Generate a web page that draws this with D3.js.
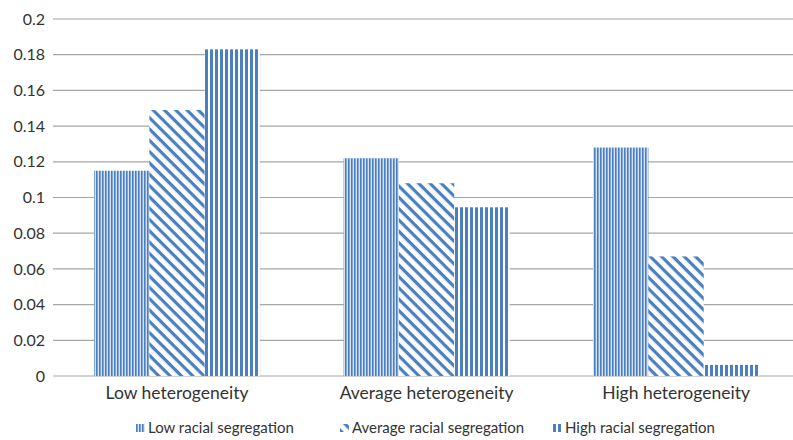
<!DOCTYPE html>
<html><head><meta charset="utf-8">
<script src="https://cdn.jsdelivr.net/npm/d3@7"></script>
<style>body{margin:0;background:#fff}svg{display:block}text{font-family:Lato,"Open Sans",sans-serif;fill:#333}</style>
</head><body>
<svg id="c" width="793" height="440"></svg>
<script>
const categories = ["Low heterogeneity","Average heterogeneity","High heterogeneity"];
const series = ["Low racial segregation","Average racial segregation","High racial segregation"];
const lowSeg = [0.115, 0.122, 0.128];
const avgSeg = [0.149, 0.108, 0.067];
const highSeg = [0.183, 0.0945, 0.0062];
const yTicks = [0,0.02,0.04,0.06,0.08,0.1,0.12,0.14,0.16,0.18,0.2];
const values = [lowSeg, avgSeg, highSeg];

const blue = "#4a7fc1";
const svg = d3.select("#c");
const defs = svg.append("defs");
const p0 = defs.append("pattern").attr("id","pat0").attr("patternUnits","userSpaceOnUse").attr("width",3).attr("height",10);
p0.append("rect").attr("width",3).attr("height",10).attr("fill","#d6e2f3");
p0.append("rect").attr("width",1.6).attr("height",10).attr("fill",blue);
const p1 = defs.append("pattern").attr("id","pat1").attr("patternUnits","userSpaceOnUse").attr("width",8).attr("height",8).attr("patternTransform","rotate(45)");
p1.append("rect").attr("width",8).attr("height",8).attr("fill","#fff");
p1.append("rect").attr("width",8).attr("height",3.2).attr("fill",blue);
const p2 = defs.append("pattern").attr("id","pat2").attr("patternUnits","userSpaceOnUse").attr("width",5).attr("height",10);
p2.append("rect").attr("width",5).attr("height",10).attr("fill","#fff");
p2.append("rect").attr("width",3).attr("height",10).attr("fill",blue);
const fills = ["url(#pat0)","url(#pat1)","url(#pat2)"];

const m = {l:52.3, r:800.8, t:19, b:376};
const x = d3.scaleBand().domain(categories).range([m.l, m.r]).paddingInner(0).paddingOuter(0);
const xs = d3.scaleBand().domain(series).range([0, x.bandwidth()]).paddingInner(0).paddingOuter(0.753);
const y = d3.scaleLinear().domain([0,0.2]).range([m.b, m.t]);

svg.append("g").selectAll("line").data(yTicks).join("line")
  .attr("x1",53).attr("x2",793).attr("y1",d=>y(d)).attr("y2",d=>y(d))
  .attr("stroke","#a6a6a6").attr("stroke-width",1.2);
svg.append("g").selectAll("text").data(yTicks).join("text")
  .attr("x",45).attr("y",d=>y(d)).attr("dy","0.35em").attr("text-anchor","end")
  .attr("font-size",16).text(d=>String(d));

series.forEach((s,i)=>{
  svg.append("g").selectAll("rect").data(categories).join("rect")
    .attr("x",(c)=>x(c)+xs(s)).attr("width",xs.bandwidth())
    .attr("y",(c,j)=>y(values[i][j])).attr("height",(c,j)=>y(0)-y(values[i][j]))
    .attr("fill",fills[i]);
});

svg.append("g").selectAll("text").data(categories).join("text")
  .attr("x",c=>x(c)+x.bandwidth()/2).attr("y",399).attr("text-anchor","middle")
  .attr("font-size",17.5).text(d=>d);

const legX = [136, 340, 553];
const lg = svg.append("g").selectAll("g").data(series).join("g")
  .attr("transform",(d,i)=>`translate(${legX[i]},428)`);
lg.append("rect").attr("x",0).attr("y",-4).attr("width",9).attr("height",8).attr("fill",(d,i)=>fills[i]);
lg.append("text").attr("x",12).attr("y",0).attr("dy","0.35em").attr("font-size",15).text(d=>d);
</script>
</body></html>
